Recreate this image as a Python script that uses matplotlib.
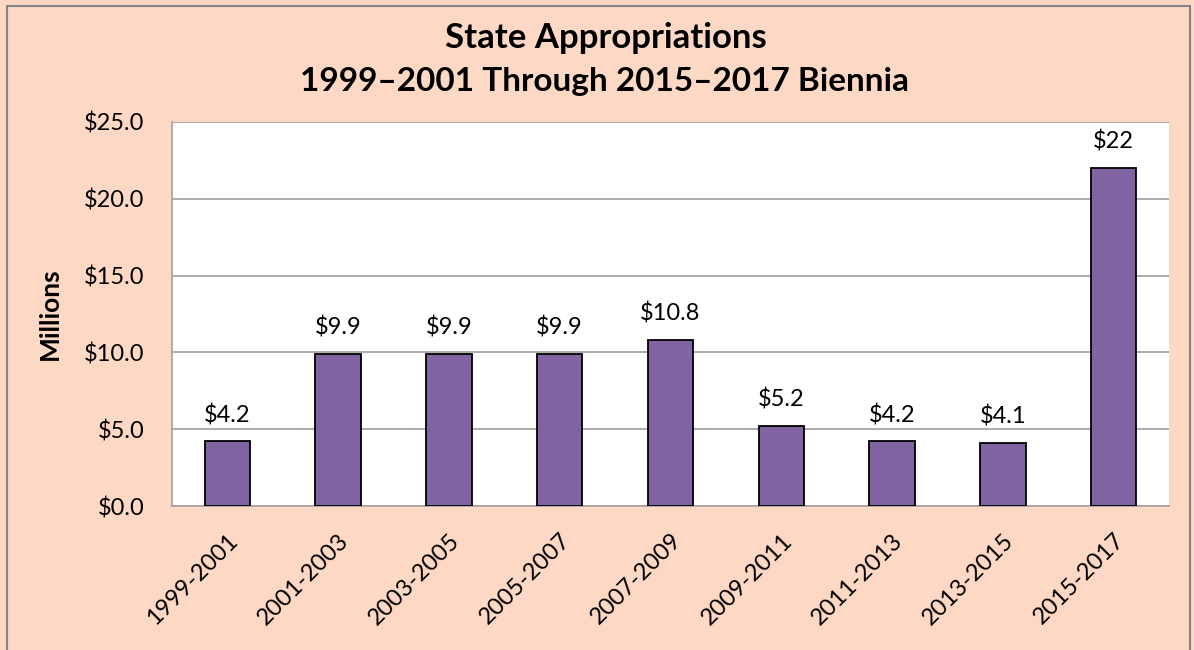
import matplotlib.pyplot as plt
from matplotlib.patches import Rectangle

biennia = ["1999-2001", "2001-2003", "2003-2005", "2005-2007", "2007-2009",
           "2009-2011", "2011-2013", "2013-2015", "2015-2017"]
amounts = [4.2, 9.9, 9.9, 9.9, 10.8, 5.2, 4.2, 4.1, 22.0]
bar_text = ["$4.2", "$9.9", "$9.9", "$9.9", "$10.8", "$5.2", "$4.2", "$4.1", "$22"]
yticks = [0, 5, 10, 15, 20, 25]

plt.rcParams['font.family'] = ['Lato', 'DejaVu Sans']

W, H = 1194, 650
fig = plt.figure(figsize=(W / 100, H / 100), dpi=100)
fig.patch.set_facecolor("#FDD8C5")

# outer border
fig.add_artist(Rectangle((7 / W, -0.01), (1190 - 7) / W, 1.01 - 6 / H,
                         transform=fig.transFigure, fill=False,
                         edgecolor="#868686", linewidth=1.5))

left, right, top, bottom = 172, 1169, 122, 506
ax = fig.add_axes([left / W, 1 - bottom / H, (right - left) / W, (bottom - top) / H])
ax.set_facecolor("white")

x = range(len(biennia))
ax.bar(x, amounts, width=0.41, color="#8064A2", edgecolor="black", linewidth=1.3, zorder=3)
for i, (v, t) in enumerate(zip(amounts, bar_text)):
    ax.text(i, v + 1.0, t, ha="center", va="bottom", fontsize=17)

ax.set_xlim(-0.5, len(biennia) - 0.5)
ax.set_ylim(0, 25)
ax.set_yticks(yticks)
ax.set_yticklabels(["$%.1f" % v for v in yticks], fontsize=17)
ax.set_xticks(list(x))
ax.set_xticklabels(biennia, rotation=45, ha="right", rotation_mode="anchor", fontsize=17)
ax.tick_params(axis="y", length=0, pad=20)
ax.tick_params(axis="x", length=0, pad=17)
ax.yaxis.grid(True, color="#A6A6A6", linewidth=1.3, zorder=0)
for s in ["top", "right"]:
    ax.spines[s].set_visible(False)
for s in ["left", "bottom"]:
    ax.spines[s].set_color("#A6A6A6")
    ax.spines[s].set_linewidth(1.3)

ax.set_ylabel("Millions", fontsize=19, fontweight="bold", labelpad=16)

fig.text(606 / W, 1 - 38 / H, "State Appropriations", ha="center", va="center",
         fontsize=25, fontweight="bold")
fig.text(604 / W, 1 - 81 / H, "1999\u20132001 Through 2015\u20132017 Biennia", ha="center",
         va="center", fontsize=24, fontweight="bold")

fig.savefig("out.png", dpi=100, facecolor=fig.get_facecolor())
